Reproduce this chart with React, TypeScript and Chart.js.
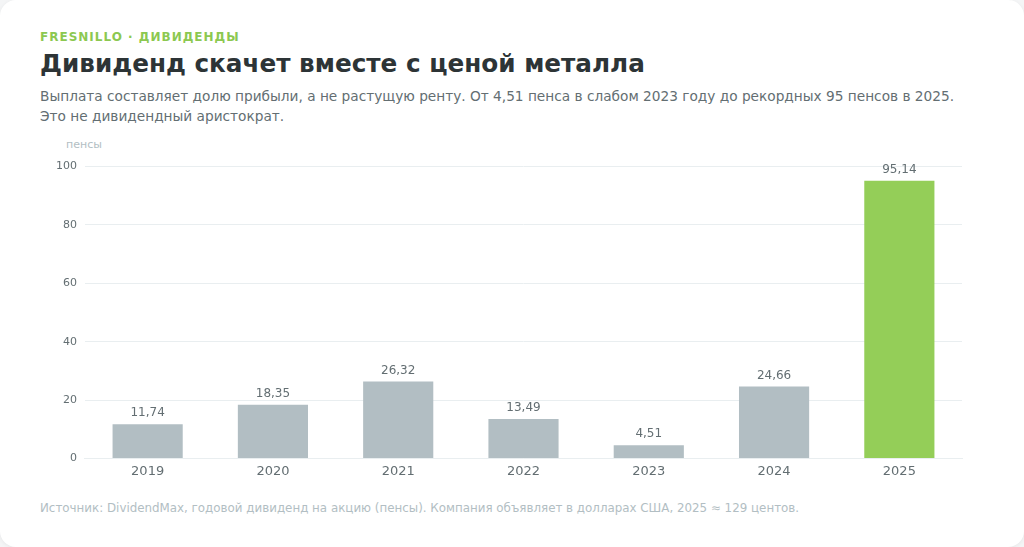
import React, { useEffect, useRef } from "react";
import { Chart, registerables } from "chart.js";

Chart.register(...registerables);

const years = ["2019", "2020", "2021", "2022", "2023", "2024", "2025"];
const dividends = [11.74, 18.35, 26.32, 13.49, 4.51, 24.66, 95.14];
const barColors = ["#b2bec3", "#b2bec3", "#b2bec3", "#b2bec3", "#b2bec3", "#b2bec3", "#94ce58"];
const yTicks = [0, 20, 40, 60, 80, 100];

const FONT = "'DejaVu Sans', Verdana, sans-serif";

const valueLabels = {
  id: "valueLabels",
  afterDatasetsDraw(chart: any) {
    const ctx = chart.ctx;
    const meta = chart.getDatasetMeta(0);
    ctx.save();
    ctx.font = `12px ${FONT}`;
    ctx.fillStyle = "#636e72";
    ctx.textAlign = "center";
    ctx.textBaseline = "bottom";
    meta.data.forEach((bar: any, i: number) => {
      const v = dividends[i];
      ctx.fillText(v.toFixed(2).replace(".", ","), bar.x, bar.y - 5);
    });
    ctx.restore();
  },
};

export default function App() {
  const ref = useRef<HTMLCanvasElement>(null);
  useEffect(() => {
    if (!ref.current) return;
    const chart = new Chart(ref.current, {
      type: "bar",
      data: {
        labels: years,
        datasets: [
          {
            data: dividends,
            backgroundColor: barColors,
            borderWidth: 0,
            categoryPercentage: 0.8,
            barPercentage: 0.7,
          },
        ],
      },
      options: {
        animation: false,
        responsive: true,
        maintainAspectRatio: false,
        layout: { padding: { top: 10, right: 22, left: 8, bottom: 0 } },
        plugins: { legend: { display: false }, tooltip: { enabled: false } },
        scales: {
          x: {
            grid: { display: false, drawTicks: false },
            border: { display: true, color: "#e9eef0" },
            ticks: { color: "#636e72", font: { family: FONT, size: 13 }, padding: 5 },
          },
          y: {
            min: 0,
            max: 100,
            afterBuildTicks: (axis: any) => {
              axis.ticks = yTicks.map((v) => ({ value: v }));
            },
            grid: { color: "#e9eef0", drawTicks: false },
            border: { display: false },
            ticks: { color: "#636e72", font: { family: FONT, size: 11 }, padding: 8 },
          },
        },
      },
      plugins: [valueLabels],
    });
    return () => chart.destroy();
  }, []);

  return (
    <div style={{ position: "fixed", inset: 0, background: "#f4f5f6", fontFamily: FONT }}>
      <div
        style={{
          position: "absolute",
          inset: 0,
          background: "#ffffff",
          borderRadius: 16,
          boxShadow: "0 1px 4px rgba(0,0,0,0.06)",
        }}
      >
        <div
          style={{
            position: "absolute",
            left: 40,
            top: 30,
            fontSize: 12,
            fontWeight: 700,
            letterSpacing: 1.0,
            color: "#8cc850",
            whiteSpace: "nowrap",
          }}
        >
          FRESNILLO · ДИВИДЕНДЫ
        </div>
        <div
          style={{
            position: "absolute",
            left: 40,
            top: 49,
            fontSize: 24.7,
            fontWeight: 700,
            color: "#2d3436",
            whiteSpace: "nowrap",
          }}
        >
          Дивиденд скачет вместе с ценой металла
        </div>
        <div
          style={{
            position: "absolute",
            left: 40,
            top: 86,
            width: 960,
            fontSize: 13.7,
            lineHeight: "20px",
            color: "#636e72",
          }}
        >
          Выплата составляет долю прибыли, а не растущую ренту. От 4,51 пенса в слабом 2023 году до рекордных 95 пенсов в 2025.
          <br />
          Это не дивидендный аристократ.
        </div>
        <div
          style={{
            position: "absolute",
            left: 66,
            top: 138,
            fontSize: 11,
            color: "#b2bec3",
          }}
        >
          пенсы
        </div>
        <div style={{ position: "absolute", left: 40, top: 152, width: 944, height: 332 }}>
          <canvas ref={ref} />
        </div>
        <div
          style={{
            position: "absolute",
            left: 40,
            top: 501,
            fontSize: 11.87,
            color: "#b2bec3",
            whiteSpace: "nowrap",
          }}
        >
          Источник: DividendMax, годовой дивиденд на акцию (пенсы). Компания объявляет в долларах США, 2025 ≈ 129 центов.
        </div>
      </div>
    </div>
  );
}
